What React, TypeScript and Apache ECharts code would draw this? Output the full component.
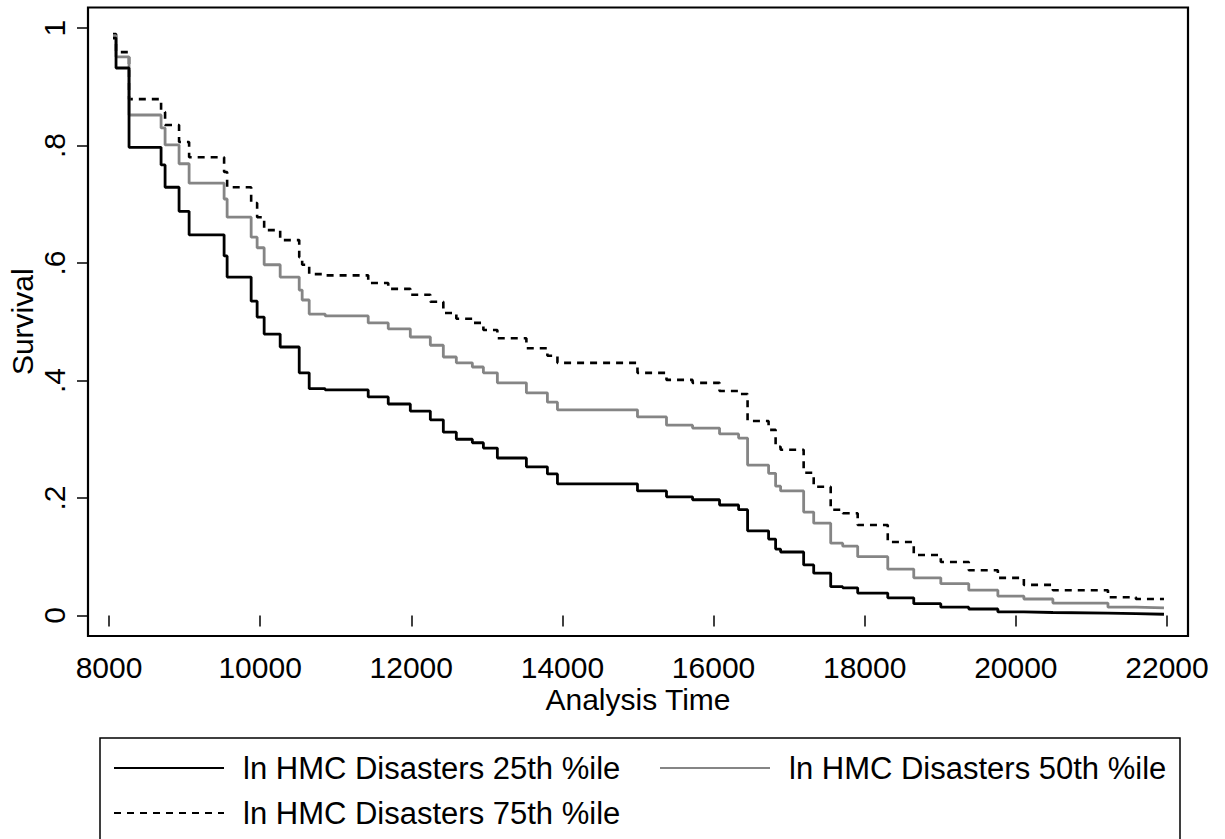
import React, { useEffect, useRef } from "react";
import * as echarts from "echarts";

// Analysis time at each step (event times shared by the three curves)
const times = [
  8053, 8093, 8265, 8689, 8742, 8927, 9060, 9523, 9563, 9881, 9960, 10053, 10265,
  10517, 10556, 10649, 10861, 11430, 11695, 11987, 12252, 12424, 12596, 12808,
  12954, 13139, 13523, 13801, 13934, 14993, 15377, 15722, 16079, 16331, 16450,
  16728, 16821, 16887, 17192, 17325, 17550, 17709, 17907, 18305, 18649, 19007,
  19377, 19762, 20106, 20490, 21219, 21589, 21960,
];

const surv25 = [
  0.983, 0.932, 0.797, 0.767, 0.729, 0.688, 0.648, 0.612, 0.576, 0.535, 0.508, 0.479, 0.457,
  0.413, 0.413, 0.386, 0.384, 0.372, 0.36, 0.348, 0.333, 0.312, 0.3, 0.294,
  0.285, 0.268, 0.253, 0.241, 0.224, 0.212, 0.202, 0.197, 0.188, 0.18, 0.144,
  0.13, 0.113, 0.108, 0.086, 0.072, 0.049, 0.047, 0.038, 0.03, 0.02, 0.014,
  0.011, 0.006, 0.005, 0.004, 0.003, 0.002, 0.002,
];

const surv50 = [
  0.987, 0.951, 0.852, 0.83, 0.801, 0.769, 0.736, 0.709, 0.678, 0.644, 0.626, 0.597, 0.576,
  0.554, 0.537, 0.513, 0.51, 0.498, 0.488, 0.474, 0.46, 0.44, 0.43, 0.423,
  0.413, 0.396, 0.379, 0.363, 0.35, 0.338, 0.324, 0.319, 0.309, 0.302, 0.256,
  0.242, 0.22, 0.212, 0.176, 0.157, 0.123, 0.118, 0.1, 0.079, 0.064, 0.054,
  0.043, 0.033, 0.028, 0.021, 0.014, 0.013, 0.013,
];

const surv75 = [
  0.99, 0.959, 0.879, 0.857, 0.835, 0.806, 0.78, 0.755, 0.729, 0.702, 0.678, 0.656, 0.639,
  0.61, 0.597, 0.581, 0.579, 0.566, 0.556, 0.546, 0.534, 0.515, 0.505, 0.498,
  0.486, 0.472, 0.455, 0.442, 0.43, 0.413, 0.401, 0.396, 0.382, 0.377, 0.331,
  0.316, 0.287, 0.282, 0.243, 0.219, 0.18, 0.174, 0.154, 0.125, 0.103, 0.091,
  0.077, 0.064, 0.052, 0.043, 0.031, 0.028, 0.028,
];

const seriesNames = [
  "ln HMC Disasters 25th %ile",
  "ln HMC Disasters 50th %ile",
  "ln HMC Disasters 75th %ile",
];

const xTicks = [8000, 10000, 12000, 14000, 16000, 18000, 20000, 22000];
const yTicks = [0, 0.2, 0.4, 0.6, 0.8, 1];

const FONT = "'Liberation Sans', Arial, Helvetica, sans-serif";

export default function App() {
  const ref = useRef<HTMLDivElement>(null);

  useEffect(() => {
    document.body.style.margin = "0";
    if (!ref.current) return;
    const chart = echarts.init(ref.current, null, { renderer: "svg" });

    const mk = (vals: number[]) => times.map((t, i) => [t, vals[i]]);

    const legendText = {
      fontFamily: FONT,
      fontSize: 31,
      color: "#000",
      lineHeight: 32,
      padding: [0, 0, 0, 14],
    };
    const legendBase = {
      padding: 0,
      itemWidth: 110,
      itemHeight: 14,
      textStyle: legendText,
      selectedMode: false,
      itemStyle: { color: "transparent", borderColor: "transparent", borderWidth: 0, opacity: 0 },
    };

    chart.setOption({
      animation: false,
      backgroundColor: "#fff",
      textStyle: { fontFamily: FONT },
      grid: {
        left: 88,
        top: 7.5,
        width: 1100,
        height: 628.5,
        containLabel: false,
        outerBoundsMode: "none",
        show: true,
        borderColor: "#000",
        borderWidth: 2.2,
        backgroundColor: "#fff",
      },
      xAxis: {
        type: "value",
        min: 7722,
        max: 22278,
        name: "Analysis Time",
        nameLocation: "middle",
        nameGap: 48,
        nameMoveOverlap: false,
        nameTextStyle: { fontFamily: FONT, fontSize: 30, color: "#000" },
        axisLine: { show: false },
        splitLine: { show: false },
        axisTick: {
          show: true,
          length: 11,
          customValues: xTicks,
          lineStyle: { color: "#000", width: 1.5 },
        },
        axisLabel: {
          customValues: xTicks,
          margin: 16,
          fontFamily: FONT,
          fontSize: 30,
          color: "#000",
          formatter: (v: number) => String(Math.round(v)),
        },
      },
      yAxis: {
        type: "value",
        min: -0.035,
        max: 1.035,
        name: "Survival",
        nameLocation: "middle",
        nameGap: 51,
        nameRotate: 90,
        nameMoveOverlap: false,
        nameTextStyle: { fontFamily: FONT, fontSize: 30, color: "#000" },
        axisLine: { show: false },
        splitLine: { show: false },
        axisTick: {
          show: true,
          length: 11,
          customValues: yTicks,
          lineStyle: { color: "#000", width: 1.5 },
        },
        axisLabel: {
          customValues: yTicks,
          rotate: 90,
          margin: 19,
          fontFamily: FONT,
          fontSize: 30,
          color: "#000",
          formatter: (v: number) => {
            if (Math.abs(v) < 1e-9) return "0";
            if (Math.abs(v - 1) < 1e-9) return "1";
            return "." + Math.round(v * 10);
          },
        },
      },
      legend: [
        { ...legendBase, data: [seriesNames[0]], left: 113, top: 752 },
        { ...legendBase, data: [seriesNames[1]], left: 659, top: 752 },
        { ...legendBase, data: [seriesNames[2]], left: 113, top: 797 },
      ],
      graphic: [
        {
          type: "rect",
          shape: { x: 100, y: 738, width: 1080, height: 130 },
          style: { fill: "none", stroke: "#000", lineWidth: 1.5 },
          silent: true,
        },
      ],
      series: [
        {
          name: seriesNames[0],
          type: "line",
          step: "end",
          data: mk(surv25),
          symbol: "none",
          lineStyle: { color: "#000", width: 2.8 },
          itemStyle: { color: "#000" },
          z: 3,
        },
        {
          name: seriesNames[1],
          type: "line",
          step: "end",
          data: mk(surv50),
          symbol: "none",
          lineStyle: { color: "#858585", width: 2.8 },
          itemStyle: { color: "#858585" },
          z: 2,
        },
        {
          name: seriesNames[2],
          type: "line",
          step: "end",
          data: mk(surv75),
          symbol: "none",
          lineStyle: { color: "#000", width: 2.6, type: [7, 6] },
          itemStyle: { color: "#000" },
          z: 1,
        },
      ],
    });

    return () => chart.dispose();
  }, []);

  return <div ref={ref} style={{ width: 1225, height: 839 }} />;
}
